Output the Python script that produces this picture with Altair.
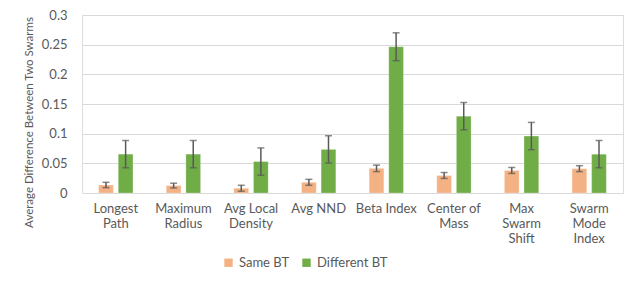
import altair as alt
import pandas as pd

categories = ["Longest|Path", "Maximum|Radius", "Avg Local|Density", "Avg NND",
              "Beta Index", "Center of|Mass", "Max|Swarm|Shift", "Swarm|Mode|Index"]
series = ["Same BT", "Different BT"]
same_vals = [0.0135, 0.0125, 0.008, 0.018, 0.0415, 0.0295, 0.038, 0.041]
same_err = [0.0045, 0.004, 0.005, 0.005, 0.0055, 0.005, 0.005, 0.005]
diff_vals = [0.0655, 0.0655, 0.053, 0.0735, 0.2465, 0.1295, 0.096, 0.0655]
diff_err = [0.023, 0.023, 0.023, 0.023, 0.0235, 0.023, 0.023, 0.023]
y_ticks = [0, 0.05, 0.1, 0.15, 0.2, 0.25, 0.3]
colors = ["#F4B183", "#70AD47"]

rows = []
for i, c in enumerate(categories):
    for s, v, e in ((series[0], same_vals[i], same_err[i]), (series[1], diff_vals[i], diff_err[i])):
        rows.append({"category": c, "series": s, "value": v, "lo": v - e, "hi": v + e})
df = pd.DataFrame(rows)

FONT = "Lato"
GRAY = "#595959"
YTITLE = "Average Difference  Between Two Swarms"

xaxis = alt.Axis(labelAngle=0, labelExpr="split(datum.label, '|')",
                 labelLineHeight=15, labelPadding=9, ticks=False, domain=False,
                 labelFontSize=13, labelColor=GRAY, labelFont=FONT,
                 labelBaseline="top", grid=False)
yaxis = alt.Axis(values=y_ticks,
                 labelExpr="datum.value == 0 ? '0' : format(datum.value, '.2~f')",
                 labelOverlap=False,
                 titleFont=FONT, titleFontSize=11.5, titleFontWeight="normal",
                 titleColor=GRAY, titleAngle=-90, titleX=-53, titleY=107,
                 titleAlign="center", titleBaseline="middle", titleLimit=400,
                 labelFont=FONT, labelFontSize=13, labelColor=GRAY,
                 labelPadding=15, ticks=False, domain=False,
                 grid=True, gridColor="#D9D9D9", gridWidth=1)

x = alt.X("category:N", sort=categories, title=None,
          scale=alt.Scale(paddingInner=0, paddingOuter=0), axis=xaxis)
xo = alt.XOffset("series:N", sort=series,
                 scale=alt.Scale(paddingInner=0.25, paddingOuter=0.85))
yscale = alt.Scale(domain=[0, 0.3], nice=False)

base = alt.Chart(df)

bars = base.mark_bar(stroke="white", strokeWidth=0.5, strokeOpacity=0.5).encode(
    x=x, xOffset=xo,
    y=alt.Y("value:Q", scale=yscale, axis=yaxis, title=YTITLE),
    color=alt.Color("series:N", sort=series,
                    scale=alt.Scale(domain=series, range=colors),
                    legend=alt.Legend(title=None, orient="none", direction="horizontal",
                                      legendX=140, legendY=241, symbolType="square",
                                      symbolSize=70, symbolStrokeWidth=0,
                                      labelFont=FONT, labelFontSize=13, labelColor=GRAY,
                                      columnPadding=10, labelOffset=4)),
)

rules = base.mark_rule(color=GRAY, strokeWidth=1.5).encode(
    x=x, xOffset=xo,
    y=alt.Y("lo:Q", scale=yscale, axis=yaxis, title=YTITLE), y2="hi:Q")
caps_lo = base.mark_tick(color=GRAY, thickness=1.5, size=7, orient="horizontal").encode(
    x=x, xOffset=xo, y=alt.Y("lo:Q", scale=yscale, axis=yaxis, title=YTITLE))
caps_hi = base.mark_tick(color=GRAY, thickness=1.5, size=7, orient="horizontal").encode(
    x=x, xOffset=xo, y=alt.Y("hi:Q", scale=yscale, axis=yaxis, title=YTITLE))

chart = alt.layer(bars, rules, caps_lo, caps_hi).properties(
    width=541, height=178,
    autosize=alt.AutoSizeParams(type="none"),
    padding={"left": 74, "top": 7, "right": 9, "bottom": 81},
).configure_view(stroke=None).configure(background="white")

chart.save("out.html", embed_options={"renderer": "svg", "actions": False})
